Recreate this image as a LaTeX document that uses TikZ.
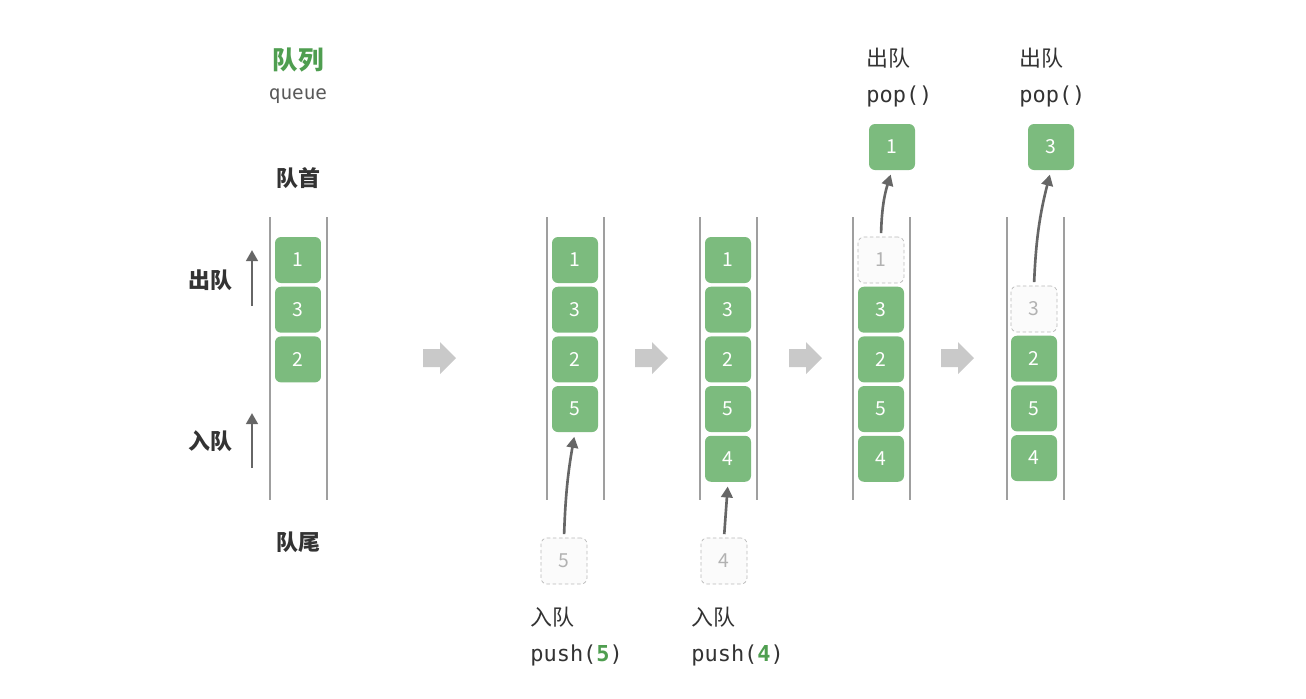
\documentclass[tikz,border=0pt]{standalone}
\usepackage{fontspec}
\setmainfont{Noto Sans CJK SC}
\newfontfamily\mono{DejaVu Sans Mono}
\usetikzlibrary{positioning,arrows.meta}
\definecolor{verde}{HTML}{7CBB7E}
\definecolor{verdeesc}{HTML}{4F9E50}
\definecolor{texto}{HTML}{333333}
\definecolor{cinzaseta}{HTML}{C9C9C9}

\tikzset{
  elem/.style={fill=verde, rounded corners=0.12cm, minimum size=0.92cm, inner sep=0pt,
    text=white, font=\fontsize{11}{13}\selectfont},
  fantasma/.style={elem, fill=gray!3, draw=gray!55, dash pattern=on 2pt off 1.5pt, text=gray!60},
  trilho/.style={draw=gray!75, line width=0.8pt},
  seta/.style={-{Triangle[length=2.2mm, width=2.3mm]}, draw=black!60, line width=1.5pt,
    shorten <=2pt, shorten >=2.5pt},
  rotulo/.style={text=texto, font=\fontsize{12.5}{15}\selectfont\bfseries},
  cmd/.style={text=texto, anchor=west, inner sep=0pt, font=\fontsize{12.5}{15}\selectfont}
}

\begin{document}
\begin{tikzpicture}[x=0.02cm, y=-0.02cm]
  \useasboundingbox (0,0) rectangle (1306,698);

  % Titulo
  \node[font=\fontsize{14.5}{17}\selectfont\bfseries, text=verdeesc] (tit) at (298,60) {队列};
  \node[text=black!65, font=\mono\fontsize{11}{13}\selectfont] (tq) at (298,96) {queue};
  \node[rotulo] (frente) at (298,178) {队首};
  \node[rotulo] (fim) at (298,542) {队尾};

  % Fila inicial
  \draw[trilho] (270,217) -- (270,500);
  \draw[trilho] (327,217) -- (327,500);
  \node[elem] (a1) at (298,260) {1};
  \node[elem, below=0.06cm of a1] (a3) {3};
  \node[elem, below=0.06cm of a3] (a2) {2};

  % Sentidos de saida e entrada
  \node[rotulo] (saida) at (210,280) {出队};
  \node[rotulo] (entrada) at (210,441) {入队};
  \coordinate (s0) at (252,306);
  \coordinate (s1) at (252,250);
  \coordinate (e0) at (252,468);
  \coordinate (e1) at (252,413);
  \draw[seta, shorten <=0pt, shorten >=0pt] (s0) -- (s1);
  \draw[seta, shorten <=0pt, shorten >=0pt] (e0) -- (e1);

  % Setas grandes entre os passos
  \foreach \x in {440,652,806,958}
    \fill[cinzaseta, shift={(\x,358)}] (-17,-9) -- (0,-9) -- (0,-16) -- (16,0)
      -- (0,16) -- (0,9) -- (-17,9) -- cycle;

  % Passo 1: push(5)
  \draw[trilho] (547,217) -- (547,500);
  \draw[trilho] (604,217) -- (604,500);
  \node[elem] (b1) at (575,260) {1};
  \node[elem, below=0.06cm of b1] (b3) {3};
  \node[elem, below=0.06cm of b3] (b2) {2};
  \node[elem, below=0.06cm of b2] (b5) {5};
  \node[fantasma] (g5) at (564,561) {5};
  \draw[seta] (g5.north) to[bend left=4] (b5.south);
  \node[cmd] (p1) at (530,617) {入队};
  \node[cmd] (p1c) at (530,655) {\mono push(\textcolor{verdeesc}{\textbf{5}})};

  % Passo 2: push(4)
  \draw[trilho] (700,217) -- (700,500);
  \draw[trilho] (757,217) -- (757,500);
  \node[elem] (c1) at (728,260) {1};
  \node[elem, below=0.06cm of c1] (c3) {3};
  \node[elem, below=0.06cm of c3] (c2) {2};
  \node[elem, below=0.06cm of c2] (c5) {5};
  \node[elem, below=0.06cm of c5] (c4) {4};
  \node[fantasma] (g4) at (724,561) {4};
  \draw[seta] (g4.north) -- (c4.south);
  \node[cmd] (p2) at (691,617) {入队};
  \node[cmd] (p2c) at (691,655) {\mono push(\textcolor{verdeesc}{\textbf{4}})};

  % Passo 3: pop()
  \draw[trilho] (853,217) -- (853,500);
  \draw[trilho] (910,217) -- (910,500);
  \node[fantasma] (d1) at (881,260) {1};
  \node[elem, below=0.06cm of d1] (d3) {3};
  \node[elem, below=0.06cm of d3] (d2) {2};
  \node[elem, below=0.06cm of d2] (d5) {5};
  \node[elem, below=0.06cm of d5] (d4) {4};
  \node[elem] (o1) at (892,147) {1};
  \draw[seta] (d1.north) to[bend left=8] (o1.south);
  \node[cmd] (p3) at (866,58) {出队};
  \node[cmd] (p3c) at (866,96) {\mono pop()};

  % Passo 4: pop()
  \draw[trilho] (1007,217) -- (1007,500);
  \draw[trilho] (1064,217) -- (1064,500);
  \node[fantasma] (f3) at (1034,309) {3};
  \node[elem, below=0.06cm of f3] (f2) {2};
  \node[elem, below=0.06cm of f2] (f5) {5};
  \node[elem, below=0.06cm of f5] (f4) {4};
  \node[elem] (o3) at (1051,147) {3};
  \draw[seta] (f3.north) to[bend left=6] (o3.south);
  \node[cmd] (p4) at (1019,58) {出队};
  \node[cmd] (p4c) at (1019,96) {\mono pop()};
\end{tikzpicture}
\end{document}
